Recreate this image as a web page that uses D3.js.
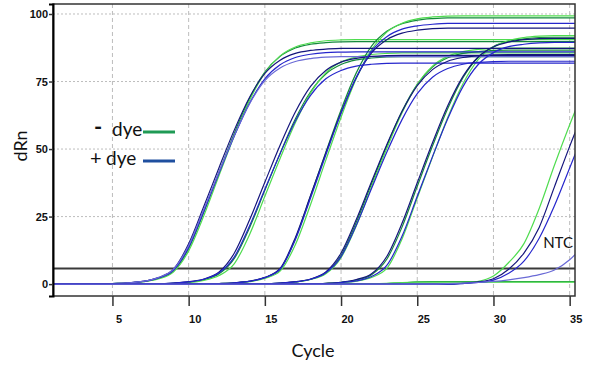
<!DOCTYPE html>
<html>
<head>
<meta charset="utf-8">
<title>Amplification plot</title>
<script src="https://cdn.jsdelivr.net/npm/d3@7"></script>
<style>
  body { margin: 0; background: #fff; }
  svg { display: block; }
</style>
</head>
<body>
<div id="chart"></div>
<script>
// Cycles 1..36 (the plot is cut a little after cycle 35)
const cycles = [1,2,3,4,5,6,7,8,9,10,11,12,13,14,15,16,17,18,19,20,21,22,23,24,25,26,27,28,29,30,31,32,33,34,35,36];

// dRn per cycle. "minus" = - dye (green), "plus" = + dye (blue)
// group 1 (Ct ~9)
const minusLight1 = [0,0,0,0,0.2,0.4,0.9,1.9,4.5,12.3, 25.4,40.3,54.9,68.1,78.2,84.5,87.8,89.3,90.1,90.4, 90.5,90.5,90.5,90.5,90.5,90.5,90.5,90.5,90.5,90.5, 90.5,90.5,90.5,90.5,90.5,90.5];
const minusDark1  = [0,0,0,0,0.2,0.4,0.9,2.1,4.8,13.2, 26.7,41.5,55.9,68.8,78.5,84.3,87.4,88.8,89.4,89.7, 89.8,89.8,89.8,89.8,89.8,89.8,89.8,89.8,89.8,89.8, 89.8,89.8,89.8,89.8,89.8,89.8];
const plusNavy1   = [0,0,0,0,0.2,0.5,1.0,2.4,5.5,14.9, 28.8,43.2,57.1,69.2,78.0,82.9,85.4,86.5,87.0,87.3, 87.3,87.3,87.3,87.3,87.3,87.3,87.3,87.3,87.3,87.3, 87.3,87.3,87.3,87.3,87.3,87.3];
const plusBlue1   = [0,0,0,0,0.2,0.4,1.0,2.2,5.1,13.6, 27.0,41.1,54.9,67.0,76.0,81.2,83.9,85.1,85.7,85.9, 86,86,86,86,86,86,86,86,86,86, 86,86,86,86,86,86];
const plusPurple1 = [0,0,0,0,0.2,0.5,1.0,2.4,5.5,14.3, 27.8,41.7,55.1,66.8,75.3,80.0,82.4,83.5,84.0,84.2, 84.2,84.2,84.2,84.2,84.2,84.2,84.2,84.2,84.2,84.2, 84.2,84.2,84.2,84.2,84.2,84.2];
// group 2 (Ct ~12.5)
const minusLight2 = [0,0,0,0,0,0,0,0.1,0.3,0.6, 1.4,3.2,7.6,18.4,32.5,46.5,59.7,70.7,78.2,82.2, 84.1,85.0,85.4,85.6,85.6,85.6,85.6,85.6,85.6,85.6, 85.6,85.6,85.6,85.6,85.6,85.6];
const minusDark2  = [0,0,0,0,0,0,0,0.1,0.3,0.7, 1.7,3.8,9.5,20.9,34.7,48.4,61.1,71.2,77.8,81.3, 83.0,83.7,84.1,84.2,84.2,84.2,84.2,84.2,84.2,84.2, 84.2,84.2,84.2,84.2,84.2,84.2];
const plusNavy2   = [0,0,0,0,0,0,0,0.1,0.4,0.9, 1.9,4.5,11.5,23.8,37.7,51.4,63.7,73.2,79.1,82.2, 83.6,84.3,84.6,84.7,84.7,84.7,84.7,84.7,84.7,84.7, 84.7,84.7,84.7,84.7,84.7,84.7];
const plusBlue2   = [0,0,0,0,0,0,0,0.1,0.4,0.8, 1.8,4.2,10.1,21.6,35.1,48.3,60.4,69.9,76.0,79.1, 80.7,81.4,81.7,81.8,81.8,81.8,81.8,81.8,81.8,81.8, 81.8,81.8,81.8,81.8,81.8,81.8];
// group 3 (Ct ~15.9)
const minusLight3 = [0,0,0,0,0,0,0,0,0,0, 0,0.2,0.4,0.9,2.1,4.8,14.6,29.5,45.9,61.8, 76.1,86.8,93.3,96.6,98.2,98.9,99.2,99.3,99.3,99.3, 99.3,99.3,99.3,99.3,99.3,99.3];
const minusDark3  = [0,0,0,0,0,0,0,0,0,0, 0,0.2,0.5,1.0,2.4,5.5,16.8,32.6,48.8,64.5, 78.2,88.1,93.6,96.4,97.7,98.3,98.6,98.6,98.6,98.6, 98.6,98.6,98.6,98.6,98.6,98.6];
const plusNavy3   = [0,0,0,0,0,0,0,0,0,0, 0,0.2,0.5,1.1,2.5,5.8,17.2,32.8,48.5,63.5, 76.5,85.6,90.5,92.9,94.0,94.6,94.8,94.8,94.8,94.8, 94.8,94.8,94.8,94.8,94.8,94.8];
const plusBlue3   = [0,0,0,0,0,0,0,0,0,0, 0,0.2,0.5,1.0,2.4,5.5,16.4,31.9,47.8,63.2, 76.5,86.2,91.6,94.4,95.6,96.2,96.5,96.5,96.5,96.5, 96.5,96.5,96.5,96.5,96.5,96.5];
// group 4 (Ct ~19.2)
const minusLight4 = [0,0,0,0,0,0,0,0,0,0, 0,0,0,0,0.1,0.3,0.7,1.7,3.8,9.8, 21.6,36.0,50.2,63.4,73.9,80.7,84.3,86.1,86.9,87.3, 87.4,87.4,87.4,87.4,87.4,87.4];
const minusDark4  = [0,0,0,0,0,0,0,0,0,0, 0,0,0,0,0.1,0.4,0.8,1.8,4.2,10.7, 22.9,37.1,51.2,64.0,74.0,80.4,83.8,85.4,86.1,86.5, 86.6,86.6,86.6,86.6,86.6,86.6];
const plusNavy4   = [0,0,0,0,0,0,0,0,0,0, 0,0,0,0,0.1,0.4,0.9,1.9,4.5,11.5, 23.9,37.9,51.6,63.9,73.5,79.4,82.5,83.9,84.6,84.9, 85,85,85,85,85,85];
const plusBlue4   = [0,0,0,0,0,0,0,0,0,0, 0,0,0,0,0.1,0.4,0.8,1.8,4.2,10.2, 21.8,35.4,48.8,60.9,70.5,76.6,79.8,81.4,82.1,82.4, 82.5,82.5,82.5,82.5,82.5,82.5];
// group 5 (Ct ~22.4)
const minusLight5 = [0,0,0,0,0,0,0,0,0,0, 0,0,0,0,0,0,0,0,0.2,0.5, 1.1,2.5,5.8,16.7,31.9,47.0,61.7,74.2,83.1,87.8, 90.2,91.3,91.8,92,92,92];
const minusDark5  = [0,0,0,0,0,0,0,0,0,0, 0,0,0,0,0,0,0,0.1,0.3,0.7, 1.5,3.5,9.2,21.1,36.2,51.1,65.0,76.4,84.0,88.0, 89.9,90.8,91.3,91.4,91.4,91.4];
const plusNavy5   = [0,0,0,0,0,0,0,0,0,0, 0,0,0,0,0,0,0,0.1,0.3,0.7, 1.7,3.8,10.2,22.5,37.5,52.3,66.0,76.9,84.1,87.8, 89.6,90.5,90.9,91,91,91];
const plusBlue5   = [0,0,0,0,0,0,0,0,0,0, 0,0,0,0,0,0,0,0.1,0.2,0.6, 1.2,2.8,6.9,17.7,32.5,47.2,61.2,73.1,81.3,85.7, 87.9,88.8,89.3,89.5,89.5,89.5];
// late wells and NTC
const minusLate   = [0,0,0,0,0,0,0,0,0,0, 0,0,0,0,0,0,0,0,0,0, 0,0,0,0,0,0,0,0.4,1.0,3.0, 8.0,15.0,28.0,44.0,59.0,73.0];
const plusLateA   = [0,0,0,0,0,0,0,0,0,0, 0,0,0,0,0,0,0,0,0,0, 0,0,0,0,0,0,0,0.3,0.8,2.0, 5.5,11.5,21.0,36.0,51.0,65.0];
const plusLateB   = [0,0,0,0,0,0,0,0,0,0, 0,0,0,0,0,0,0,0,0,0, 0,0,0,0,0,0,0,0.2,0.6,1.5, 4.0,8.5,17.0,29.0,43.0,57.0];
const plusNtc     = [0,0,0,0,0,0,0,0,0,0, 0,0,0,0,0,0,0,0,0,0, 0,0,0,0,0,0,0.2,0.4,0.6,1.0, 1.6,2.4,3.5,5.2,9.0,15.0];
const minusNtcA   = [0,0,0,0,0,0,0,0,0,0, 0,0,0,0,0,0,0,0,0,0, 0,0.1,0.3,0.6,0.7,0.7,0.7,0.7,0.7,0.7, 0.7,0.7,0.7,0.7,0.7,0.7];
const minusNtcB   = [0,0,0,0,0,0,0,0,0,0, 0,0,0,0,0,0,0,0,0,0, 0,0,0.2,0.5,0.8,0.9,0.9,0.9,0.9,0.9, 0.9,0.9,0.9,0.9,0.9,0.9];

const threshold = 5.8;
const xTicks = [5, 10, 15, 20, 25, 30, 35];
const yTicks = [0, 25, 50, 75, 100];
const legendSigns = ["-", "+"];
const legendWord = "dye";

// series list (drawing order: greens first, blues on top)
const series = [
  [minusNtcB, "dark"], [minusNtcA, "light"],
  [minusDark1, "dark"], [minusLight1, "light"],
  [minusDark2, "dark"], [minusLight2, "light"],
  [minusDark3, "dark"], [minusLight3, "light"],
  [minusDark4, "dark"], [minusLight4, "light"],
  [minusDark5, "dark"], [minusLight5, "light"],
  [minusLate, "light"],
  [plusNavy1, "navy"], [plusBlue1, "blue"], [plusPurple1, "purple"],
  [plusNavy2, "navy"], [plusBlue2, "blue"],
  [plusNavy3, "navy"], [plusBlue3, "blue"],
  [plusNavy4, "navy"], [plusBlue4, "blue"],
  [plusNavy5, "navy"], [plusBlue5, "blue"],
  [plusLateA, "navy"], [plusLateB, "blue"], [plusNtc, "purple"]
];
const tone = {light: "#4fdc4f", dark: "#14893c", navy: "#15157c", blue: "#2626cc", purple: "#6a6ad6"};

const W = 591, H = 373;
const margin = {top: 4, right: 16, bottom: 77, left: 53};

const svg = d3.select("#chart").append("svg")
  .attr("width", W).attr("height", H)
  .style("background", "#fff");

const x = d3.scaleLinear().domain([1.1, 35.35]).range([margin.left, W - margin.right]);
const y = d3.scaleLinear().domain([-4.4, 103.7]).range([H - margin.bottom, margin.top]);

// grid
svg.append("g").selectAll("line").data(xTicks).enter().append("line")
  .attr("x1", d => x(d)).attr("x2", d => x(d))
  .attr("y1", margin.top).attr("y2", H - margin.bottom)
  .attr("stroke", "#bdbdbd").attr("stroke-width", 1).attr("stroke-dasharray", "4,3");
svg.append("g").selectAll("line").data(yTicks.filter(d => d > 0)).enter().append("line")
  .attr("x1", margin.left).attr("x2", W - margin.right)
  .attr("y1", d => y(d)).attr("y2", d => y(d))
  .attr("stroke", "#bdbdbd").attr("stroke-width", 1).attr("stroke-dasharray", "2,2");

// threshold
svg.append("line")
  .attr("x1", margin.left).attr("x2", W - margin.right)
  .attr("y1", y(threshold)).attr("y2", y(threshold))
  .attr("stroke", "#3a3a3a").attr("stroke-width", 2);

// curves
svg.append("defs").append("clipPath").attr("id", "plot-clip")
  .append("rect")
  .attr("x", margin.left).attr("y", margin.top)
  .attr("width", W - margin.left - margin.right)
  .attr("height", H - margin.top - margin.bottom);

const line = d3.line()
  .x((d, i) => x(cycles[i]))
  .y(d => y(d))
  .curve(d3.curveMonotoneX);

svg.append("g").attr("clip-path", "url(#plot-clip)")
  .selectAll("path").data(series).enter().append("path")
  .attr("d", d => line(d[0]))
  .attr("fill", "none")
  .attr("stroke", d => tone[d[1]])
  .attr("stroke-width", 1.2);

// frame
svg.append("rect")
  .attr("x", margin.left).attr("y", margin.top)
  .attr("width", W - margin.left - margin.right)
  .attr("height", H - margin.top - margin.bottom)
  .attr("fill", "none").attr("stroke", "#333").attr("stroke-width", 1.5);

// axes
const yAxis = svg.append("g")
  .attr("transform", `translate(${margin.left},0)`)
  .call(d3.axisLeft(y).tickValues(yTicks).tickSize(4).tickPadding(1));
yAxis.select(".domain").attr("stroke", "#000").attr("stroke-width", 2);

const xAxis = svg.append("g")
  .attr("transform", `translate(0,${H - margin.bottom})`)
  .call(d3.axisBottom(x).tickValues(xTicks).tickSize(10).tickPadding(9));
xAxis.select(".domain").remove();
xAxis.selectAll("text").attr("dx", 6);

svg.selectAll(".tick line").attr("stroke", "#333").attr("stroke-width", 1.5);
svg.selectAll(".tick text")
  .attr("fill", "#111")
  .style("font-family", "'Liberation Sans', Arial, sans-serif")
  .style("font-size", "11px")
  .style("font-weight", "bold");

// axis titles
svg.append("text")
  .attr("transform", `translate(27,146) rotate(-90)`)
  .attr("text-anchor", "middle")
  .style("font-family", "Lato, 'Open Sans', sans-serif")
  .style("font-size", "18px")
  .attr("fill", "#111")
  .text("dRn");

svg.append("text")
  .attr("x", 313).attr("y", 357)
  .attr("text-anchor", "middle")
  .style("font-family", "Lato, 'Open Sans', sans-serif")
  .style("font-size", "18px")
  .attr("fill", "#111")
  .text("Cycle");

// NTC label
svg.append("text")
  .attr("x", 573).attr("y", 248)
  .attr("text-anchor", "end")
  .style("font-family", "Lato, 'Open Sans', sans-serif")
  .style("font-size", "15px")
  .attr("fill", "#111")
  .text("NTC");

// legend
const legendColor = ["#1f9a55", "#1f4f9f"];
const legend = svg.append("g").selectAll("g").data(legendSigns).enter().append("g")
  .attr("transform", (d, i) => `translate(0,${136 + i * 29})`);
legend.append("text")
  .attr("x", (d, i) => i === 0 ? 94 : 90)
  .attr("y", (d, i) => i === 0 ? -1 : 0)
  .style("font-family", "Lato, 'Open Sans', sans-serif")
  .style("font-size", (d, i) => i === 0 ? "22px" : "20px")
  .style("font-weight", (d, i) => i === 0 ? "bold" : "normal")
  .attr("fill", "#111")
  .text(d => d);
legend.append("text")
  .attr("x", (d, i) => i === 0 ? 112 : 106)
  .style("font-family", "Lato, 'Open Sans', sans-serif")
  .style("font-size", "19px")
  .attr("fill", "#111")
  .text(legendWord);
legend.append("line")
  .attr("x1", 143).attr("x2", 175)
  .attr("y1", -4).attr("y2", -4)
  .attr("stroke", (d, i) => legendColor[i])
  .attr("stroke-width", 3);
</script>
</body>
</html>
